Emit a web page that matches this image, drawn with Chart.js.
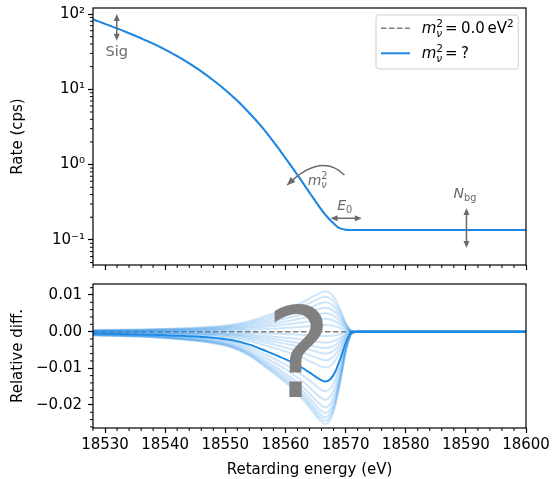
<!DOCTYPE html>
<html>
<head>
<meta charset="utf-8">
<script src="https://cdn.jsdelivr.net/npm/chart.js@4"></script>
<style>
  html, body { margin: 0; padding: 0; background: #fff; }
  #wrap { position: relative; width: 552px; height: 479px; }
  .panel { position: absolute; left: 0; width: 552px; }
  #rate-panel { top: 0; height: 275px; }
  #diff-panel { top: 275px; height: 204px; }
</style>
</head>
<body>
<div id="wrap">
  <div class="panel" id="rate-panel"><canvas id="rateChart"></canvas></div>
  <div class="panel" id="diff-panel"><canvas id="diffChart"></canvas></div>
</div>
<script>
// --- integrated spectrum (upper panel) ---
const rateEnergy = [18528, 18530, 18532, 18534, 18536, 18538, 18540, 18542, 18544, 18546, 18548, 18550,
  18552, 18554, 18556, 18557, 18558, 18559, 18560, 18561, 18562, 18563, 18564, 18565, 18566, 18567,
  18568, 18569, 18570, 18571, 18572, 18600];
const rateNull = [84.9, 74.1, 64.4, 55.6, 47.6, 40.4, 33.7, 27.6, 22.1, 17.3, 13.2, 9.82,
  7.05, 4.85, 3.21, 2.56, 2.02, 1.58, 1.22, 0.946, 0.728, 0.557, 0.425, 0.325, 0.251, 0.2,
  0.166, 0.143, 0.1368, 0.1355, 0.1355, 0.1355];

// --- relative difference to the m^2 = 0 spectrum (lower panel) ---
const diffEnergy = [18528, 18536, 18542, 18547, 18551, 18554, 18557, 18559, 18561, 18563,
  18564.5, 18565.6, 18566.6, 18567.5, 18568.3, 18569.2, 18570.1, 18571, 18572, 18600];
const diffFit = [-0.00054, -0.00075, -0.00109, -0.00156, -0.00231, -0.00354, -0.00544, -0.0068, -0.0083, -0.01006,
  -0.0117, -0.01292, -0.0136, -0.01292, -0.01088, -0.00707, -0.00272, -0.00027, 0, 0];
const diffScan = [
  [0.00044, 0.0006, 0.00088, 0.00127, 0.00187, 0.00286, 0.0044, 0.0055, 0.00671, 0.00814, 0.00946, 0.01045, 0.011, 0.01045, 0.0088, 0.00572, 0.0022, 0.00022, 0, 0],
  [0.00038, 0.00052, 0.00076, 0.00109, 0.00162, 0.00247, 0.0038, 0.00475, 0.0058, 0.00703, 0.00817, 0.00903, 0.0095, 0.00903, 0.0076, 0.00494, 0.0019, 0.00019, 0, 0],
  [0.00032, 0.00044, 0.00064, 0.00092, 0.00136, 0.00208, 0.0032, 0.004, 0.00488, 0.00592, 0.00688, 0.0076, 0.008, 0.0076, 0.0064, 0.00416, 0.0016, 0.00016, 0, 0],
  [0.00026, 0.00036, 0.00052, 0.00075, 0.00111, 0.00169, 0.0026, 0.00325, 0.00397, 0.00481, 0.00559, 0.00618, 0.0065, 0.00618, 0.0052, 0.00338, 0.0013, 0.00013, 0, 0],
  [0.0002, 0.00028, 0.0004, 0.00058, 0.00085, 0.0013, 0.002, 0.0025, 0.00305, 0.0037, 0.0043, 0.00475, 0.005, 0.00475, 0.004, 0.0026, 0.001, 0.0001, 0, 0],
  [0.00014, 0.00019, 0.00028, 0.0004, 0.0006, 0.00091, 0.0014, 0.00175, 0.00214, 0.00259, 0.00301, 0.00333, 0.0035, 0.00333, 0.0028, 0.00182, 0.0007, 0.00007, 0, 0],
  [0.00007, 0.0001, 0.00014, 0.00021, 0.00031, 0.00047, 0.00072, 0.0009, 0.0011, 0.00133, 0.00155, 0.00171, 0.0018, 0.00171, 0.00144, 0.00094, 0.00036, 0.00004, 0, 0],
  [-0.00005, -0.00007, -0.0001, -0.00014, -0.0002, -0.00031, -0.00048, -0.0006, -0.00073, -0.00089, -0.00103, -0.00114, -0.0012, -0.00114, -0.00096, -0.00062, -0.00024, -0.00002, 0, 0],
  [-0.00012, -0.00017, -0.00024, -0.00035, -0.00051, -0.00078, -0.0012, -0.0015, -0.00183, -0.00222, -0.00258, -0.00285, -0.003, -0.00285, -0.0024, -0.00156, -0.0006, -0.00006, 0, 0],
  [-0.00018, -0.00025, -0.00036, -0.00052, -0.00077, -0.00117, -0.0018, -0.00225, -0.00275, -0.00333, -0.00387, -0.00428, -0.0045, -0.00428, -0.0036, -0.00234, -0.0009, -0.00009, 0, 0],
  [-0.00024, -0.00033, -0.00048, -0.00069, -0.00102, -0.00156, -0.0024, -0.003, -0.00366, -0.00444, -0.00516, -0.0057, -0.006, -0.0057, -0.0048, -0.00312, -0.0012, -0.00012, 0, 0],
  [-0.00031, -0.00043, -0.00062, -0.0009, -0.00133, -0.00203, -0.00312, -0.0039, -0.00476, -0.00577, -0.00671, -0.00741, -0.0078, -0.00741, -0.00624, -0.00406, -0.00156, -0.00016, 0, 0],
  [-0.00039, -0.00054, -0.00078, -0.00113, -0.00167, -0.00255, -0.00392, -0.0049, -0.00598, -0.00725, -0.00843, -0.00931, -0.0098, -0.00931, -0.00784, -0.0051, -0.00196, -0.0002, 0, 0],
  [-0.00065, -0.0009, -0.0013, -0.00187, -0.00277, -0.00424, -0.00652, -0.00815, -0.00994, -0.01206, -0.01402, -0.01549, -0.0163, -0.01549, -0.01304, -0.00848, -0.00326, -0.00033, 0, 0],
  [-0.00074, -0.00102, -0.00149, -0.00214, -0.00316, -0.00484, -0.00744, -0.0093, -0.01135, -0.01376, -0.016, -0.01767, -0.0186, -0.01767, -0.01488, -0.00967, -0.00372, -0.00037, 0, 0],
  [-0.00083, -0.00114, -0.00166, -0.00238, -0.00352, -0.00538, -0.00828, -0.01035, -0.01263, -0.01532, -0.0178, -0.01967, -0.0207, -0.01967, -0.01656, -0.01076, -0.00414, -0.00041, 0, 0],
  [-0.00089, -0.00122, -0.00178, -0.00255, -0.00377, -0.00577, -0.00888, -0.0111, -0.01354, -0.01643, -0.01909, -0.02109, -0.0222, -0.02109, -0.01776, -0.01154, -0.00444, -0.00044, 0, 0],
  [-0.00094, -0.00129, -0.00187, -0.00269, -0.00398, -0.00608, -0.00936, -0.0117, -0.01427, -0.01732, -0.02012, -0.02223, -0.0234, -0.02223, -0.01872, -0.01217, -0.00468, -0.00047, 0, 0],
  [-0.00097, -0.00134, -0.00194, -0.00279, -0.00413, -0.00632, -0.00972, -0.01215, -0.01482, -0.01798, -0.0209, -0.02309, -0.0243, -0.02309, -0.01944, -0.01264, -0.00486, -0.00049, 0, 0],
  [-0.00101, -0.00139, -0.00202, -0.0029, -0.00428, -0.00655, -0.01008, -0.0126, -0.01537, -0.01865, -0.02167, -0.02394, -0.0252, -0.02394, -0.02016, -0.0131, -0.00504, -0.0005, 0, 0]
];
const nullEnergy = [18528, 18600];
const nullDiff = [0, 0];

// --- axes ---
const energyRange = [18528, 18600];
const energyTicks = [18530, 18540, 18550, 18560, 18570, 18580, 18590, 18600];
const rateRange = [0.0464, 120.2];
const rateTicks = [0.1, 1, 10, 100];
const rateTickLabels = ['10⁻¹', '10⁰', '10¹', '10²'];
const diffRange = [-0.0263, 0.0130];
const diffTicks = [-0.02, -0.01, 0, 0.01];
const diffTickLabels = ['−0.02', '−0.01', '0.00', '0.01'];

const BLUE = '#1e88e5';
const BLUE_LIGHT = 'rgba(30, 136, 229, 0.22)';
const GREY = '#808080';
const NOTE = '#6a6a6a';
const FAMILY = '"DejaVu Sans", sans-serif';

Chart.defaults.font.family = FAMILY;
Chart.defaults.font.size = 15;
Chart.defaults.color = '#000';
Chart.defaults.animation = false;

const toPoints = (xs, ys) => xs.map((x, i) => ({ x, y: ys[i] }));
const fixWidth = w => s => { s.width = w; s.paddingTop = 0; s.paddingBottom = 0; };
const fixHeight = h => s => { s.height = h; s.paddingLeft = 0; s.paddingRight = 0; };
const useTicks = values => s => { s.ticks = values.map(v => ({ value: v })); };
const tickGrid = { display: true, drawOnChartArea: false, drawTicks: true, tickLength: 5, tickWidth: 1.2, tickColor: '#000' };

function font(size, italic) {
  return (italic ? 'italic ' : '') + size + 'px ' + FAMILY;
}

// draws a run of text pieces; pieces flagged "stack" share the x of the next piece
function drawMath(ctx, x, y, parts) {
  ctx.textAlign = 'left';
  ctx.textBaseline = 'alphabetic';
  let held = 0;
  for (const p of parts) {
    if (p.gap) { x += p.gap; continue; }
    ctx.font = font(p.size, p.it);
    ctx.fillText(p.t, x, y + (p.dy || 0));
    const w = ctx.measureText(p.t).width;
    if (p.stack) { held = Math.max(held, w); continue; }
    x += Math.max(w, held);
    held = 0;
  }
  return x;
}

const mNu = size => [
  { t: 'm', size, it: true },
  { t: '2', size: size * 0.7, dy: -size * 0.42, stack: true },
  { t: 'ν', size: size * 0.7, it: true, dy: size * 0.22 }
];

function head(ctx, x, y, ang, len = 7, half = 3) {
  const c = Math.cos(ang), s = Math.sin(ang);
  ctx.beginPath();
  ctx.moveTo(x, y);
  ctx.lineTo(x - len * c + half * s, y - len * s - half * c);
  ctx.lineTo(x - len * c - half * s, y - len * s + half * c);
  ctx.closePath();
  ctx.fill();
}

function twoWayArrow(ctx, x1, y1, x2, y2) {
  const ang = Math.atan2(y2 - y1, x2 - x1);
  ctx.beginPath();
  ctx.moveTo(x1 + 5 * Math.cos(ang), y1 + 5 * Math.sin(ang));
  ctx.lineTo(x2 - 5 * Math.cos(ang), y2 - 5 * Math.sin(ang));
  ctx.stroke();
  head(ctx, x2, y2, ang);
  head(ctx, x1, y1, ang + Math.PI);
}

function drawFrame(chart) {
  const { ctx, chartArea: a } = chart;
  ctx.save();
  ctx.strokeStyle = '#000';
  ctx.lineWidth = 1.2;
  ctx.strokeRect(a.left, a.top, a.right - a.left, a.bottom - a.top);
  ctx.restore();
}

function drawMinor(chart, id, values) {
  const { ctx, chartArea: a } = chart;
  const s = chart.scales[id];
  ctx.save();
  ctx.strokeStyle = '#000';
  ctx.lineWidth = 1;
  ctx.beginPath();
  values.forEach(v => {
    const p = s.getPixelForValue(v);
    if (s.isHorizontal()) { ctx.moveTo(p, a.bottom); ctx.lineTo(p, a.bottom + 3); }
    else { ctx.moveTo(a.left, p); ctx.lineTo(a.left - 3, p); }
  });
  ctx.stroke();
  ctx.restore();
}

const energyMinor = [];
for (let e = energyRange[0]; e <= energyRange[1]; e += 2) if (e % 10) energyMinor.push(e);
const rateMinor = [];
for (let k = -2; k <= 2; k++) for (let m = 2; m <= 9; m++) {
  const v = m * Math.pow(10, k);
  if (v > rateRange[0] && v < rateRange[1]) rateMinor.push(v);
}
const diffMinor = [];
for (let i = -13; i <= 6; i++) if (i % 5) diffMinor.push(i * 0.002);

const ratePlugin = {
  id: 'rateDecor',
  afterDatasetsDraw(chart) {
    const { ctx, chartArea: a } = chart;
    const X = v => chart.scales.x.getPixelForValue(v);
    const Y = v => chart.scales.y.getPixelForValue(v);
    drawFrame(chart);
    drawMinor(chart, 'x', energyMinor);
    drawMinor(chart, 'y', rateMinor);

    ctx.save();
    ctx.strokeStyle = NOTE;
    ctx.fillStyle = NOTE;
    ctx.lineWidth = 1.5;

    // signal normalisation
    twoWayArrow(ctx, X(18531.95), Y(100), X(18531.95), Y(44.2));
    ctx.font = font(14.5);
    ctx.textAlign = 'center';
    ctx.textBaseline = 'alphabetic';
    ctx.fillText('Sig', X(18531.95), Y(27.7));

    // neutrino mass: curved arrow
    const p0 = [X(18569.8), Y(0.728)], c = [X(18565.9), Y(1.47)], p1 = [X(18560.3), Y(0.536)];
    ctx.beginPath();
    ctx.moveTo(p0[0], p0[1]);
    ctx.quadraticCurveTo(c[0], c[1], p1[0], p1[1]);
    ctx.stroke();
    head(ctx, p1[0], p1[1], Math.atan2(p1[1] - c[1], p1[0] - c[0]), 8, 3.5);
    drawMath(ctx, X(18563.7), Y(0.536), mNu(14));

    // endpoint
    twoWayArrow(ctx, X(18567.5), Y(0.1936), X(18572.7), Y(0.1936));
    drawMath(ctx, X(18568.6), Y(0.2457), [{ t: 'E', size: 14, it: true }, { t: '0', size: 9.8, dy: 3 }]);

    // background
    twoWayArrow(ctx, X(18590.1), Y(0.2655), X(18590.1), Y(0.078));
    drawMath(ctx, X(18587.95), Y(0.357), [{ t: 'N', size: 14, it: true }, { t: 'bg', size: 9.8, dy: 3 }]);
    ctx.restore();

    // legend
    const lx = a.right - 150, ly = a.top + 7, lw = 142.3, lh = 54;
    ctx.save();
    ctx.fillStyle = 'rgba(255,255,255,0.8)';
    ctx.strokeStyle = '#d0d0d0';
    ctx.lineWidth = 1;
    ctx.beginPath();
    ctx.roundRect(lx, ly, lw, lh, 3);
    ctx.fill();
    ctx.stroke();

    const r1 = a.top + 20.3, r2 = a.top + 45.3;
    ctx.lineWidth = 1.5;
    ctx.strokeStyle = GREY;
    ctx.setLineDash([5.5, 2.5]);
    ctx.beginPath(); ctx.moveTo(lx + 5, r1); ctx.lineTo(lx + 34, r1); ctx.stroke();
    ctx.setLineDash([]);
    ctx.strokeStyle = BLUE;
    ctx.lineWidth = 2;
    ctx.beginPath(); ctx.moveTo(lx + 5, r2); ctx.lineTo(lx + 34, r2); ctx.stroke();

    ctx.fillStyle = '#000';
    drawMath(ctx, lx + 45.7, r1 + 5, mNu(15).concat([
      { gap: 2 }, { t: '=', size: 15 }, { gap: 3.5 }, { t: '0.0', size: 15 }, { gap: 2.5 },
      { t: 'eV', size: 15 }, { t: '2', size: 10.5, dy: -6.3 }
    ]));
    drawMath(ctx, lx + 45.7, r2 + 5, mNu(15).concat([
      { gap: 2 }, { t: '=', size: 15 }, { gap: 3.5 }, { t: '?', size: 15 }
    ]));
    ctx.restore();
  }
};

const diffPlugin = {
  id: 'diffDecor',
  afterDatasetsDraw(chart) {
    const { ctx } = chart;
    const X = v => chart.scales.x.getPixelForValue(v);
    const Y = v => chart.scales.y.getPixelForValue(v);
    ctx.save();
    ctx.fillStyle = GREY;
    ctx.font = font(124);
    ctx.textAlign = 'center';
    ctx.textBaseline = 'alphabetic';
    ctx.fillText('?', X(18562.2), Y(-0.0179));
    ctx.restore();
    drawFrame(chart);
    drawMinor(chart, 'x', energyMinor);
    drawMinor(chart, 'y', diffMinor);
  }
};

const energyAxis = (labels, height) => ({
  type: 'linear',
  min: energyRange[0],
  max: energyRange[1],
  afterBuildTicks: useTicks(energyTicks),
  afterFit: fixHeight(height),
  grid: tickGrid,
  border: { display: false },
  ticks: { display: labels, autoSkip: false, maxRotation: 0, padding: 3, callback: v => String(v) }
});

new Chart(document.getElementById('rateChart'), {
  type: 'line',
  data: {
    datasets: [
      { data: toPoints(rateEnergy, rateNull), borderColor: BLUE, borderWidth: 2 },
      { data: toPoints(rateEnergy, rateNull), borderColor: GREY, borderWidth: 1.5, borderDash: [5.5, 2.5] }
    ]
  },
  options: {
    responsive: true,
    maintainAspectRatio: false,
    layout: { padding: { top: 8, right: 26, left: 0, bottom: 0 } },
    elements: { point: { radius: 0 }, line: { cubicInterpolationMode: 'monotone', fill: false } },
    plugins: { legend: { display: false }, tooltip: { enabled: false } },
    scales: {
      x: energyAxis(false, 10),
      y: {
        type: 'logarithmic',
        min: rateRange[0],
        max: rateRange[1],
        afterBuildTicks: useTicks(rateTicks),
        afterFit: fixWidth(93),
        grid: tickGrid,
        border: { display: false },
        ticks: { autoSkip: false, padding: 3, callback: (v, i) => rateTickLabels[i] },
        title: { display: true, text: 'Rate (cps)', font: { size: 15 }, padding: { top: 9, bottom: 0 } }
      }
    }
  },
  plugins: [ratePlugin]
});

new Chart(document.getElementById('diffChart'), {
  type: 'line',
  data: {
    datasets: [
      { data: toPoints(diffEnergy, diffFit), borderColor: BLUE, borderWidth: 2 },
      ...diffScan.map(ys => ({ data: toPoints(diffEnergy, ys), borderColor: BLUE_LIGHT, borderWidth: 2 })),
      { data: toPoints(nullEnergy, nullDiff), borderColor: GREY, borderWidth: 1.5, borderDash: [5.5, 2.5] }
    ]
  },
  options: {
    responsive: true,
    maintainAspectRatio: false,
    layout: { padding: { top: 9, right: 26, left: 0, bottom: 0 } },
    elements: { point: { radius: 0 }, line: { cubicInterpolationMode: 'monotone', fill: false } },
    plugins: { legend: { display: false }, tooltip: { enabled: false } },
    scales: {
      x: Object.assign(energyAxis(true, 51), {
        title: { display: true, text: 'Retarding energy (eV)', font: { size: 15 }, padding: { top: 0, bottom: 0 } }
      }),
      y: {
        type: 'linear',
        min: diffRange[0],
        max: diffRange[1],
        afterBuildTicks: useTicks(diffTicks),
        afterFit: fixWidth(93),
        grid: tickGrid,
        border: { display: false },
        ticks: { autoSkip: false, padding: 6, callback: (v, i) => diffTickLabels[i] },
        title: { display: true, text: 'Relative diff.', font: { size: 15 }, padding: { top: 9, bottom: 0 } }
      }
    }
  },
  plugins: [diffPlugin]
});
</script>
</body>
</html>
